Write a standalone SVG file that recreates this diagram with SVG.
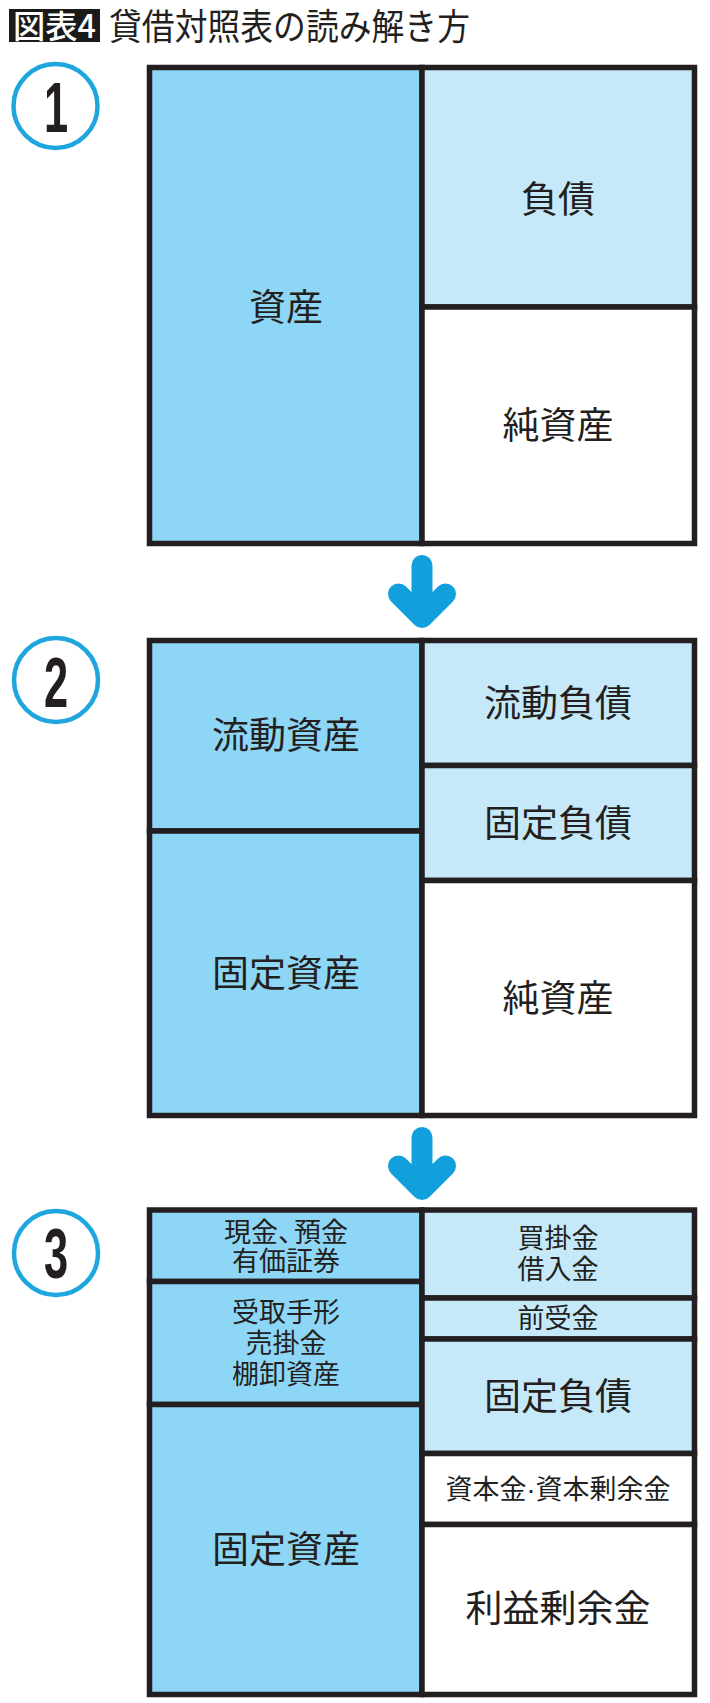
<svg xmlns="http://www.w3.org/2000/svg" width="710" height="1703" viewBox="0 0 710 1703">
<style>
.cell{stroke:#231F20;stroke-width:5.5}
.a{fill:#8ED6F6}
.b{fill:#C6E9F9}
.w{fill:#FFFFFF}
.t{font-family:"Noto Sans CJK JP","Noto Sans CJK SC",sans-serif;fill:#231F20;text-anchor:middle}
.L{font-size:37px}
.S{font-size:27px}
.dot{font-family:"Liberation Sans",Arial,sans-serif}
.ring{fill:none;stroke:#1EA6DF;stroke-width:4.5}
.num{font-family:"Liberation Sans",Arial,sans-serif;font-weight:bold;font-size:70px;fill:#231F20;text-anchor:middle}
.arw{fill:none;stroke:#12A0DD;stroke-width:21;stroke-linecap:round;stroke-linejoin:round}
</style>
<rect width="710" height="1703" fill="#FFFFFF"/>

<g id="title">
<rect x="9" y="9" width="91" height="33" fill="#1A1A1A"/>
<text x="13" y="37.5" font-family="Noto Sans CJK JP,sans-serif" font-size="32" fill="#FFFFFF" font-weight="500" textLength="83" lengthAdjust="spacingAndGlyphs">図表4</text>
<text x="109" y="40" font-family="Noto Sans CJK JP,sans-serif" font-size="36" fill="#231F20" textLength="361" lengthAdjust="spacingAndGlyphs">貸借対照表の読み解き方</text>
</g>

<g id="step1-badge">
<circle class="ring" cx="55.5" cy="106" r="42"/>
<text class="num" transform="translate(56 132) scale(0.62 1)">1</text>
</g>
<g id="step2-badge">
<circle class="ring" cx="56" cy="680" r="42"/>
<text class="num" transform="translate(56 707) scale(0.62 1)">2</text>
</g>
<g id="step3-badge">
<circle class="ring" cx="56" cy="1253" r="42"/>
<text class="num" transform="translate(56 1278) scale(0.62 1)">3</text>
</g>

<!-- Panel 1 -->
<g id="p1-shisan"><rect class="cell a" x="149.5" y="67.5" width="272.5" height="476"/><text class="t L" x="286" y="321">資産</text></g>
<g id="p1-fusai"><rect class="cell b" x="422" y="67.5" width="272.5" height="239.5"/><text class="t L" x="558" y="213">負債</text></g>
<g id="p1-junshisan"><rect class="cell w" x="422" y="307" width="272.5" height="236.5"/><text class="t L" x="558" y="439">純資産</text></g>

<!-- Panel 2 -->
<g id="p2-ryudoshisan"><rect class="cell a" x="149.5" y="640.5" width="272.5" height="190.5"/><text class="t L" x="286" y="749">流動資産</text></g>
<g id="p2-koteishisan"><rect class="cell a" x="149.5" y="831" width="272.5" height="284.5"/><text class="t L" x="286" y="987">固定資産</text></g>
<g id="p2-ryudofusai"><rect class="cell b" x="422" y="640.5" width="272.5" height="125"/><text class="t L" x="558" y="717">流動負債</text></g>
<g id="p2-koteifusai"><rect class="cell b" x="422" y="765.5" width="272.5" height="115"/><text class="t L" x="558" y="837">固定負債</text></g>
<g id="p2-junshisan"><rect class="cell w" x="422" y="880.5" width="272.5" height="235"/><text class="t L" x="558" y="1012">純資産</text></g>

<!-- Panel 3 -->
<g id="p3-genkin"><rect class="cell a" x="149.5" y="1210" width="272.5" height="71.5"/><text class="t S" x="286" y="1242">現金、<tspan dx="-11">預金</tspan></text><text class="t S" x="286" y="1271">有価証券</text></g>
<g id="p3-uketori"><rect class="cell a" x="149.5" y="1281.5" width="272.5" height="123"/><text class="t S" x="286" y="1322">受取手形</text><text class="t S" x="286" y="1353">売掛金</text><text class="t S" x="286" y="1384">棚卸資産</text></g>
<g id="p3-koteishisan"><rect class="cell a" x="149.5" y="1404.5" width="272.5" height="290"/><text class="t L" x="286" y="1563">固定資産</text></g>
<g id="p3-kaikake"><rect class="cell b" x="422" y="1210" width="272.5" height="88"/><text class="t S" x="558" y="1248">買掛金</text><text class="t S" x="558" y="1279">借入金</text></g>
<g id="p3-maeuke"><rect class="cell b" x="422" y="1298" width="272.5" height="41"/><text class="t S" x="558" y="1328">前受金</text></g>
<g id="p3-koteifusai"><rect class="cell b" x="422" y="1339" width="272.5" height="114.5"/><text class="t L" x="558" y="1410">固定負債</text></g>
<g id="p3-shihonkin"><rect class="cell w" x="422" y="1453.5" width="272.5" height="71"/><text class="t S" x="558" y="1499">資本金<tspan class="dot">·</tspan>資本剰余金</text></g>
<g id="p3-rieki"><rect class="cell w" x="422" y="1524.5" width="272.5" height="170"/><text class="t L" x="558" y="1622">利益剰余金</text></g>

<g id="connectors">
<path class="arw" d="M422 565.5 V617.5 M398.5 594 L422 617.5 L445.5 594"/>
<path class="arw" d="M422 1137.5 V1189.5 M398.5 1166 L422 1189.5 L445.5 1166"/>
</g>
</svg>
